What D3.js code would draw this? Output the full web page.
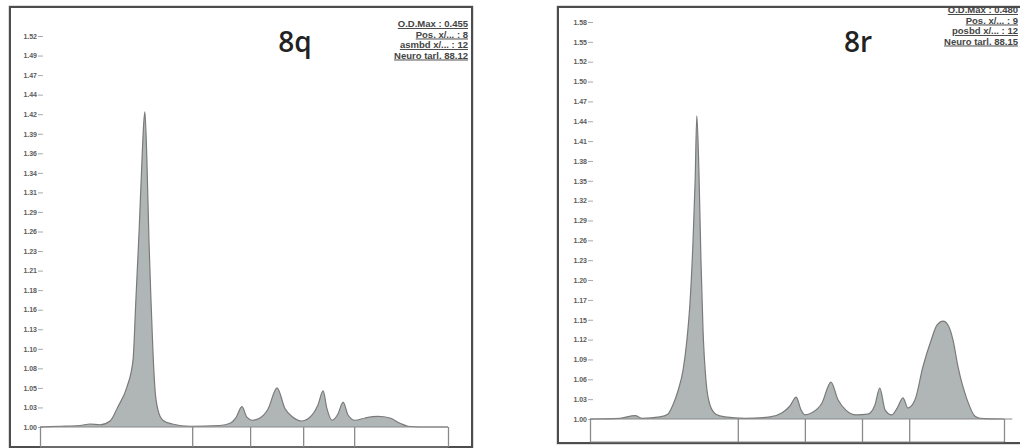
<!DOCTYPE html>
<html>
<head>
<meta charset="utf-8">
<script src="https://cdn.jsdelivr.net/npm/d3@7"></script>
<style>
  body { margin: 0; background: #fff; }
  svg { display: block; }
</style>
</head>
<body>
<div id="chart"></div>
<script>
// densitometry scans, x = distance along lane (0-100), y = optical density
const leftPos = [0, 4.9, 9.8, 12.3, 14.7, 17.2, 19.1, 21.3, 22.8, 23.5, 24.3, 24.9, 25.4, 25.7, 26.2, 26.7, 27.2, 27.7, 28.2, 28.9, 30.1, 32.4, 36.8, 44.1, 46.6, 48.0, 49.5, 50.7, 52.0, 53.9, 55.9, 58.1, 60.0, 62.0, 64.2, 66.7, 68.1, 69.4, 70.3, 71.6, 73.0, 74.3, 75.5, 77.2, 79.7, 82.8, 85.8, 88.2, 90.2, 93.1, 100];
const leftOD = [1.000, 1.001, 1.002, 1.004, 1.003, 1.008, 1.027, 1.053, 1.089, 1.169, 1.262, 1.342, 1.402, 1.419, 1.355, 1.249, 1.169, 1.098, 1.049, 1.023, 1.009, 1.004, 1.001, 1.002, 1.005, 1.012, 1.027, 1.013, 1.009, 1.012, 1.024, 1.052, 1.025, 1.013, 1.008, 1.016, 1.029, 1.048, 1.025, 1.009, 1.017, 1.033, 1.016, 1.009, 1.012, 1.014, 1.012, 1.005, 1.001, 1.000, 1.000];
const leftLanes = [0, 37.3, 51.5, 64.5, 77.0, 100];
const leftTickLabels = ['1.00', '1.03', '1.05', '1.08', '1.10', '1.13', '1.16', '1.18', '1.21', '1.23', '1.26', '1.29', '1.31', '1.34', '1.36', '1.39', '1.42', '1.44', '1.47', '1.49', '1.52'];
const leftLegend = ['O.D.Max : 0.455', 'Pos. x/... : 8', 'asmbd x/... : 12', 'Neuro tarl. 88.12'];

const rightPos = [0, 7.2, 10.9, 12.6, 16.9, 18.8, 20.0, 21.3, 22.5, 23.4, 24.2, 24.9, 25.4, 25.8, 26.3, 26.8, 27.3, 28.0, 29.0, 30.4, 32.6, 37.4, 43.5, 46.4, 48.3, 49.8, 51.0, 51.9, 53.6, 56.0, 58.2, 59.9, 61.8, 64.3, 67.1, 68.8, 70.0, 71.3, 72.9, 74.2, 75.6, 76.8, 78.5, 80.4, 82.4, 83.8, 85.3, 86.5, 87.7, 88.9, 91.1, 93.0, 94.2, 100];
const rightOD = [1.000, 1.001, 1.005, 1.001, 1.003, 1.007, 1.020, 1.042, 1.072, 1.115, 1.174, 1.262, 1.349, 1.443, 1.364, 1.232, 1.130, 1.057, 1.020, 1.007, 1.003, 1.001, 1.003, 1.009, 1.019, 1.032, 1.013, 1.006, 1.009, 1.023, 1.054, 1.028, 1.013, 1.006, 1.007, 1.020, 1.045, 1.013, 1.006, 1.016, 1.031, 1.016, 1.028, 1.076, 1.115, 1.137, 1.143, 1.137, 1.115, 1.076, 1.028, 1.004, 1.001, 1.000];
const rightLanes = [0, 35.7, 51.9, 65.7, 77.1, 100];
const rightTickLabels = ['1.00', '1.03', '1.06', '1.09', '1.12', '1.15', '1.17', '1.20', '1.23', '1.26', '1.29', '1.32', '1.35', '1.38', '1.41', '1.44', '1.47', '1.50', '1.52', '1.55', '1.58'];
const rightLegend = ['O.D.Max : 0.480', 'Pos. x/... : 9', 'posbd x/... : 12', 'Neuro tarl. 88.15'];

const panelNames = ['8q', '8r'];

const W = 1020, H = 448;
const svg = d3.select('#chart').append('svg')
  .attr('width', W)
  .attr('height', H);

svg.append('rect').attr('width', W).attr('height', H).attr('fill', '#fff');

const panels = [
  { name: panelNames[0], pos: leftPos, od: leftOD, lanes: leftLanes, labels: leftTickLabels, legend: leftLegend,
    frame: [10, 7, 462, 440], plot: [40, 448], yRange: [427, 36], axisX: 43, boxBottom: 447, lineEnd: 100,
    titleX: 295, titleY: 52, legendX: 468, legendY: 19 },
  { name: panelNames[1], pos: rightPos, od: rightOD, lanes: rightLanes, labels: rightTickLabels, legend: rightLegend,
    frame: [558, 7, 480, 436], plot: [590, 1004], yRange: [419, 22], axisX: 593, boxBottom: 442, lineEnd: 102,
    titleX: 858, titleY: 52, legendX: 1018, legendY: 5 }
];

panels.forEach(p => {
  const g = svg.append('g');
  const odMin = +p.labels[0], odMax = +p.labels[p.labels.length - 1];

  const x = d3.scaleLinear().domain([0, 100]).range(p.plot);
  const y = d3.scaleLinear().domain([odMin, odMax]).range(p.yRange);

  // frame
  g.append('rect')
    .attr('x', p.frame[0] - 1).attr('y', p.frame[1] - 1)
    .attr('width', p.frame[2] + 2).attr('height', p.frame[3] + 2)
    .attr('fill', 'none').attr('stroke', '#bbb').attr('stroke-width', 1);
  g.append('rect')
    .attr('x', p.frame[0]).attr('y', p.frame[1])
    .attr('width', p.frame[2]).attr('height', p.frame[3])
    .attr('fill', 'none').attr('stroke', '#4d4d4d').attr('stroke-width', 2);

  // y axis: evenly spaced ticks, labels as printed
  const step = (odMax - odMin) / (p.labels.length - 1);
  const tickVals = p.labels.map((d, i) => odMin + i * step);
  const yAxis = d3.axisLeft(y)
    .tickValues(tickVals)
    .tickSize(5)
    .tickPadding(1)
    .tickFormat((d, i) => p.labels[i]);
  const ya = g.append('g')
    .attr('transform', `translate(${p.axisX},0)`)
    .call(yAxis);
  ya.select('.domain').remove();
  ya.selectAll('.tick line').attr('stroke', '#aaa');
  ya.selectAll('.tick text')
    .attr('font-size', 7)
    .attr('font-family', '"Liberation Sans", Arial, sans-serif')
    .attr('font-weight', 'bold')
    .attr('fill', '#5c5c5c');

  const data = p.pos.map((d, i) => ({ x: d, v: p.od[i] }));

  const area = d3.area()
    .x(d => x(d.x))
    .y0(y(odMin))
    .y1(d => y(d.v))
    .curve(d3.curveMonotoneX);

  const line = d3.line()
    .x(d => x(d.x))
    .y(d => y(d.v))
    .curve(d3.curveMonotoneX);

  g.append('path').datum(data)
    .attr('d', area)
    .attr('fill', '#b0b6b6');

  g.append('path').datum(data)
    .attr('d', line)
    .attr('fill', 'none')
    .attr('stroke', '#7a7a7a')
    .attr('stroke-width', 1.2);

  // lane box under the scan
  const base = y(odMin);
  g.append('line')
    .attr('x1', x(0)).attr('x2', x(p.lineEnd))
    .attr('y1', base).attr('y2', base)
    .attr('stroke', '#888');
  g.append('line')
    .attr('x1', x(0)).attr('x2', x(100))
    .attr('y1', p.boxBottom).attr('y2', p.boxBottom)
    .attr('stroke', '#888');

  const laneAxis = d3.axisBottom(x)
    .tickValues(p.lanes)
    .tickSize(p.boxBottom - base)
    .tickFormat('');
  const la = g.append('g')
    .attr('transform', `translate(0,${base})`)
    .call(laneAxis);
  la.select('.domain').remove();
  la.selectAll('.tick line').attr('stroke', '#8a8a8a').attr('stroke-width', 1.3);

  // panel title
  g.append('text')
    .attr('x', p.titleX).attr('y', p.titleY)
    .attr('text-anchor', 'middle')
    .attr('font-family', '"Open Sans", "Liberation Sans", sans-serif')
    .attr('font-size', 28)
    .attr('font-weight', 600)
    .attr('fill', '#222')
    .text(p.name);

  // info block, top right
  g.selectAll('.legend')
    .data(p.legend)
    .enter()
    .append('text')
    .attr('x', p.legendX)
    .attr('y', (d, i) => p.legendY + 8 + i * 10.5)
    .attr('text-anchor', 'end')
    .attr('font-family', '"Liberation Sans", Arial, sans-serif')
    .attr('font-size', 9.5)
    .attr('font-weight', 'bold')
    .attr('text-decoration', 'underline')
    .attr('fill', '#444')
    .text(d => d);
});
</script>
</body>
</html>
